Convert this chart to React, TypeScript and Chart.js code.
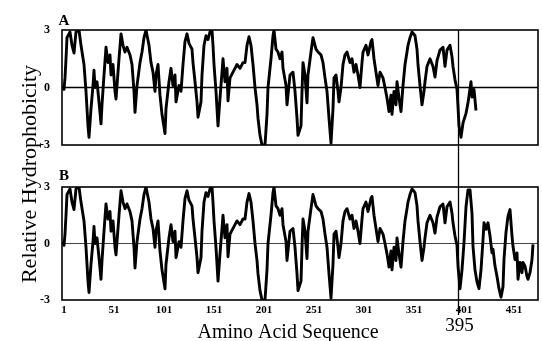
import React, { useEffect, useRef } from "react";
import { Chart, registerables } from "chart.js";

Chart.register(...registerables);

// [residue, relative hydrophobicity] — profile common to both sequences (1–394)
const sharedProfile: [number, number][] = [
  [0, 0.1], [1, -0.1], [2, 0.5], [3, 1.5], [4, 2.6], [7, 2.9], [9, 2.2], [11, 1.8], [13, 2.9], [16, 3.0],
  [18, 2.2], [21, 1.2], [23, -0.2], [25, -2.0], [26, -2.6], [28, -1.1], [30, 0.1], [31, 0.9], [32, 0.0], [34, 0.3],
  [36, -0.75], [38, -1.9], [39, -0.9], [41, 0.65], [43, 2.1], [45, 1.3], [47, 1.7], [48, 0.65], [50, 1.2], [52, -0.2],
  [53, -0.6], [56, 1.5], [58, 2.8], [60, 2.2], [62, 1.85], [64, 2.1], [67, 1.7], [69, 1.2], [71, -0.2], [72, -1.3],
  [74, 0.1], [77, 1.3], [79, 1.85], [81, 2.6], [83, 3.0], [86, 2.2], [88, 1.3], [90, 0.8], [92, -0.2], [93, 0.65],
  [95, 1.2], [97, -0.4], [99, -1.4], [102, -2.4], [103, -1.1], [106, 0.3], [108, 1.0], [110, 0.1], [112, 0.65], [113, -0.75],
  [116, 0.1], [118, -0.2], [120, 1.2], [122, 2.4], [124, 2.8], [126, 2.3], [129, 2.0], [130, 1.3], [132, 0.3], [134, -0.75],
  [135, -1.55], [138, -0.75], [139, 0.65], [141, 2.2], [143, 2.7], [145, 2.5], [147, 2.9], [149, 3.0], [150, 2.2], [151, 1.2],
  [153, -0.2], [154, -1.1], [155, -2.0], [157, -0.55], [159, 0.8], [160, 1.5], [162, 0.3], [164, 1.0], [165, -0.7], [167, 0.5],
  [170, 0.8], [172, 1.0], [174, 1.2], [177, 1.0], [180, 1.3], [182, 1.3], [184, 2.2], [186, 2.65], [188, 2.2], [190, 1.2],
  [192, 0.0], [194, -0.9], [195, -1.6], [197, -2.5], [199, -3.0], [202, -3.0], [204, -1.4], [205, 0.0], [208, 1.5], [210, 2.7],
  [211, 3.0], [213, 2.0], [215, 1.85], [217, 1.5], [219, 1.85], [220, 1.0], [223, 0.1], [224, -0.9], [227, 0.65], [230, 0.8],
  [232, -0.2], [234, -1.6], [235, -2.5], [238, -2.0], [239, -0.2], [240, 1.3], [242, 0.65], [244, -0.8], [245, 0.65], [248, 1.85],
  [250, 2.6], [253, 2.0], [255, 1.85], [258, 1.7], [260, 1.3], [262, 0.5], [264, -0.2], [266, -1.6], [268, -2.9], [270, -1.1],
  [271, 0.5], [273, 0.65], [275, -0.2], [276, -0.75], [278, 0.0], [280, 1.2], [282, 1.7], [284, 1.85], [287, 1.3], [289, 1.5],
  [291, 0.8], [293, 1.2], [295, 0.65], [297, 0.0], [299, 1.3], [300, 1.85], [303, 2.2], [305, 1.7], [308, 2.4], [309, 2.5],
  [311, 1.5], [313, 0.8], [315, 0.1], [317, 0.8], [320, 0.5], [322, 0.0], [324, -0.55], [326, -1.25], [328, -0.4], [329, -1.4],
  [331, -0.2], [333, -0.9], [334, 0.3], [336, -0.55], [338, -1.25], [340, 0.1], [342, 1.2], [344, 1.85], [345, 2.2], [347, 2.6],
  [349, 2.9], [352, 2.7], [354, 2.0], [355, 1.2], [357, 0.1], [359, -0.9], [361, -0.2], [362, 0.3], [364, 1.1], [367, 1.5],
  [370, 1.1], [372, 0.55], [374, 1.4], [377, 1.95], [380, 2.1], [382, 1.1], [384, 1.95], [387, 2.2], [389, 1.6], [390, 1.1],
  [392, 0.4], [394, -0.1],
];

// Panel A continues after residue 395
const tailA: [number, number][] = [
  [395, -1.0], [396, -2.0], [398, -2.6], [400, -1.85], [403, -1.35], [405, -0.8], [408, 0.3], [409, -0.5], [411, -0.1], [413, -1.2],
];

// Panel B continues after residue 395
const tailB: [number, number][] = [
  [395, -1.2], [397, -2.4], [399, -1.4], [401, 0.05], [403, 1.95], [405, 2.85], [407, 2.85], [409, 1.6], [410, -0.15], [412, -1.4],
  [414, -2.05], [416, -2.4], [418, -1.4], [420, 0.2], [421, 1.1], [423, 0.75], [425, 1.1], [427, 0.4], [429, -0.5], [430, -0.3],
  [432, -1.2], [434, -1.75], [436, -2.4], [438, -2.85], [440, -2.3], [441, -0.85], [443, 0.6], [445, 1.45], [447, 1.8], [449, 0.4],
  [450, -0.15], [452, -0.85], [454, -0.5], [455, -1.9], [457, -1.0], [459, -1.55], [460, -1.0], [462, -1.2], [464, -1.75], [465, -1.9],
  [467, -1.55], [469, -0.85], [470, -0.05],
];

const xTickValues = [1, 51, 101, 151, 201, 251, 301, 351, 401, 451];
const yTickValues = [-3, 0, 3];
const markerResidue = 395;
const markerLabel = "395";
const panelLabels = ["A", "B"];
const xTitle = "Amino Acid Sequence";
const yTitle = "Relative Hydrophobicity";

const SERIF = "'Liberation Serif', 'Times New Roman', serif";

const decorPlugin = {
  id: "decor",
  beforeDatasetsDraw(chart: any) {
    const { ctx, chartArea } = chart;
    ["yA", "yB"].forEach((id) => {
      const s = chart.scales[id];
      const y0 = s.getPixelForValue(0);
      ctx.save();
      ctx.strokeStyle = id === "yA" ? "#000" : "#444";
      ctx.lineWidth = id === "yA" ? 1.6 : 1.1;
      ctx.beginPath();
      ctx.moveTo(chartArea.left, y0);
      ctx.lineTo(chartArea.right, y0);
      ctx.stroke();
      ctx.restore();
    });
  },
  afterDatasetsDraw(chart: any) {
    const { ctx, chartArea } = chart;
    const xs = chart.scales.x;
    const yA = chart.scales.yA;
    const yB = chart.scales.yB;
    ctx.save();
    ctx.strokeStyle = "#000";
    ctx.lineWidth = 1.6;
    [yA, yB].forEach((s: any) => {
      ctx.strokeRect(chartArea.left, s.top, chartArea.right - chartArea.left, s.bottom - s.top);
    });
    // marker line
    const mx = Math.round(xs.getPixelForValue(markerResidue)) + 0.5;
    ctx.lineWidth = 1.3;
    ctx.beginPath();
    ctx.moveTo(mx, yA.top);
    ctx.lineTo(mx, yB.bottom + 15);
    ctx.stroke();
    // texts
    ctx.fillStyle = "#000";
    ctx.textAlign = "center";
    ctx.textBaseline = "alphabetic";
    ctx.font = `19px ${SERIF}`;
    ctx.fillText(markerLabel, mx + 1, 331);
    ctx.font = `20px ${SERIF}`;
    ctx.fillText(xTitle, 288, 338);
    ctx.font = `bold 15px ${SERIF}`;
    ctx.fillText(panelLabels[0], 64, yA.top - 5);
    ctx.fillText(panelLabels[1], 64, yB.top - 7);
    ctx.translate(36, (yA.top + yB.bottom) / 2 + 9);
    ctx.rotate(-Math.PI / 2);
    ctx.font = `22px ${SERIF}`;
    ctx.fillText(yTitle, 0, 0);
    ctx.restore();
  },
};

export default function App() {
  const ref = useRef<HTMLCanvasElement | null>(null);

  useEffect(() => {
    if (!ref.current) return;
    const toPoints = (arr: [number, number][]) => arr.map(([x, y]) => ({ x, y }));
    const dataA = toPoints([...sharedProfile, ...tailA]);
    const dataB = toPoints([...sharedProfile, ...tailB]);

    const yTickCommon = (weight: number) => ({
      type: "linear" as const,
      position: "left" as const,
      stack: "panels",
      weight,
      min: -3,
      max: 3,
      grid: { display: false, drawTicks: false },
      border: { display: false },
      afterBuildTicks: (scale: any) => {
        scale.ticks = yTickValues.map((v) => ({ value: v }));
      },
      afterFit: (scale: any) => {
        scale.width = 62;
      },
      ticks: {
        padding: 12,
        color: "#000",
        font: { family: SERIF, size: 12, weight: "bold" as const },
        callback: (v: any) => String(v),
      },
    });

    const lineStyle = {
      borderColor: "#000",
      borderWidth: 2.9,
      borderJoinStyle: "round" as const,
      pointRadius: 0,
      tension: 0,
    };

    const chart = new Chart(ref.current, {
      type: "line",
      data: {
        datasets: [
          { data: dataA, xAxisID: "x", yAxisID: "yA", ...lineStyle },
          { data: dataB, xAxisID: "x", yAxisID: "yB", ...lineStyle },
        ],
      },
      options: {
        responsive: false,
        animation: false,
        devicePixelRatio: 1,
        layout: { padding: { top: 30, right: 4, bottom: 0, left: 0 } },
        plugins: { legend: { display: false }, tooltip: { enabled: false } },
        scales: {
          x: {
            type: "linear",
            position: "bottom",
            min: -1,
            max: 475,
            grid: { display: false, drawTicks: false },
            border: { display: false },
            afterBuildTicks: (scale: any) => {
              scale.ticks = xTickValues.map((v) => ({ value: v }));
            },
            afterFit: (scale: any) => {
              scale.height = 41;
            },
            ticks: {
              padding: 4,
              autoSkip: false,
              maxRotation: 0,
              color: "#000",
              font: { family: SERIF, size: 11, weight: "bold" },
              callback: (v: any) => String(v),
            },
          },
          yB: { ...yTickCommon(1), stackWeight: 113 },
          yGap: {
            type: "linear",
            position: "left",
            stack: "panels",
            stackWeight: 42,
            weight: 2,
            min: 0,
            max: 1,
            grid: { display: false, drawTicks: false },
            border: { display: false },
            ticks: { display: false },
            afterFit: (scale: any) => {
              scale.width = 62;
            },
          },
          yA: { ...yTickCommon(3), stackWeight: 115 },
        },
      } as any,
      plugins: [decorPlugin],
    });
    return () => chart.destroy();
  }, []);

  return (
    <div style={{ position: "absolute", left: 0, top: 0, width: 542, height: 341, background: "#fff" }}>
      <canvas ref={ref} width={542} height={341} style={{ display: "block" }} />
    </div>
  );
}
